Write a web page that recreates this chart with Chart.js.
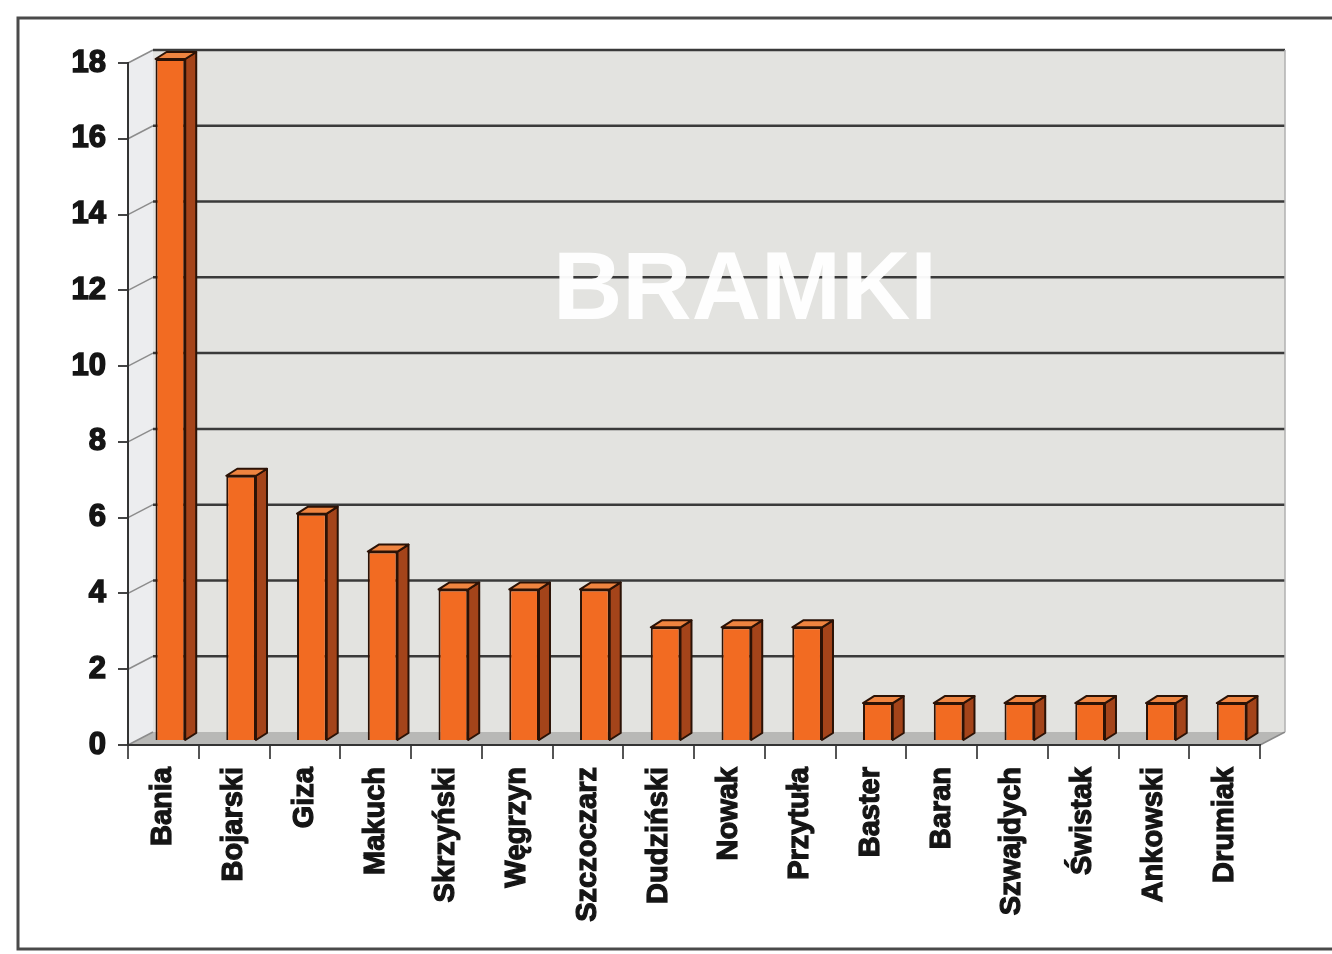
<!DOCTYPE html>
<html>
<head>
<meta charset="utf-8">
<title>BRAMKI</title>
<script src="https://cdn.jsdelivr.net/npm/chart.js@4/dist/chart.umd.min.js"></script>
<style>
  html, body { margin: 0; padding: 0; background: #fff; }
</style>
</head>
<body>
<canvas id="graphics" width="1332" height="954"></canvas>
<script>
const players = ['Bania', 'Bojarski', 'Giza', 'Makuch', 'Skrzyński', 'Węgrzyn', 'Szczoczarz', 'Dudziński',
                 'Nowak', 'Przytuła', 'Baster', 'Baran', 'Szwajdych', 'Świstak', 'Ankowski', 'Drumiak'];
const goals = [18, 7, 6, 5, 4, 4, 4, 3, 3, 3, 1, 1, 1, 1, 1, 1];
const yTicks = [0, 2, 4, 6, 8, 10, 12, 14, 16, 18];
const title = 'BRAMKI';

// depth of the walls and of each bar (fake 3d)
const WALL_DX = 25, WALL_DY = -13;
const BAR_DX = 11, BAR_DY = -7;
const BAR_SHIFT_X = 7, BAR_SHIFT_Y = -4;

const box3d = {
  id: 'box3d',
  beforeDraw(chart) {
    const ctx = chart.ctx;
    const a = chart.chartArea;
    const y = chart.scales.y;
    ctx.save();
    // frame round the picture
    ctx.strokeStyle = '#4a4a4a';
    ctx.lineWidth = 3;
    ctx.strokeRect(18, 18, 1330, 931);

    // back wall
    ctx.fillStyle = '#e3e3e0';
    ctx.fillRect(a.left + WALL_DX, a.top + WALL_DY, a.right - a.left, a.bottom - a.top);
    // left wall
    ctx.fillStyle = '#ecedef';
    ctx.beginPath();
    ctx.moveTo(a.left, a.bottom);
    ctx.lineTo(a.left, a.top);
    ctx.lineTo(a.left + WALL_DX, a.top + WALL_DY);
    ctx.lineTo(a.left + WALL_DX, a.bottom + WALL_DY);
    ctx.closePath();
    ctx.fill();
    // floor
    ctx.fillStyle = '#b8b8b6';
    ctx.beginPath();
    ctx.moveTo(a.left, a.bottom);
    ctx.lineTo(a.right, a.bottom);
    ctx.lineTo(a.right + WALL_DX, a.bottom + WALL_DY);
    ctx.lineTo(a.left + WALL_DX, a.bottom + WALL_DY);
    ctx.closePath();
    ctx.fill();
    ctx.strokeStyle = '#8a8a8a';
    ctx.lineWidth = 1.5;
    ctx.beginPath();
    ctx.moveTo(a.right, a.bottom);
    ctx.lineTo(a.right + WALL_DX, a.bottom + WALL_DY);
    ctx.stroke();

    // gridlines on back and left wall
    yTicks.forEach(v => {
      const py = y.getPixelForValue(v);
      ctx.strokeStyle = '#8c8c8c';
      ctx.lineWidth = 1.5;
      ctx.beginPath();
      ctx.moveTo(a.left, py);
      ctx.lineTo(a.left + WALL_DX, py + WALL_DY);
      ctx.stroke();
      if (v === 0) return;
      ctx.strokeStyle = '#3a3a3a';
      ctx.lineWidth = 2.5;
      ctx.beginPath();
      ctx.moveTo(a.left + WALL_DX, py + WALL_DY);
      ctx.lineTo(a.right + WALL_DX, py + WALL_DY);
      ctx.stroke();
    });
    // right edge of back wall
    ctx.strokeStyle = '#b0b0b0';
    ctx.lineWidth = 1.5;
    ctx.beginPath();
    ctx.moveTo(a.right + WALL_DX, a.top + WALL_DY);
    ctx.lineTo(a.right + WALL_DX, a.bottom + WALL_DY);
    ctx.stroke();
    ctx.restore();
  },
  beforeDatasetsDraw(chart) {
    const ctx = chart.ctx;
    const y = chart.scales.y;
    ctx.save();
    ctx.font = 'bold 96px "Liberation Sans", Arial, sans-serif';
    ctx.fillStyle = 'rgba(255,255,255,0.96)';
    ctx.textAlign = 'center';
    ctx.textBaseline = 'middle';
    ctx.fillText(title, 745, y.getPixelForValue(12) + 2);
    ctx.restore();

    ctx.save();
    ctx.translate(BAR_SHIFT_X, BAR_SHIFT_Y);
  },
  afterDatasetsDraw(chart) {
    const ctx = chart.ctx;
    chart.getDatasetMeta(0).data.forEach(bar => {
      const p = bar.getProps(['x', 'y', 'base', 'width'], true);
      const l = p.x - p.width / 2, r = p.x + p.width / 2;
      ctx.lineWidth = 2;
      ctx.strokeStyle = '#2b1206';
      ctx.lineJoin = 'round';
      // side face
      ctx.fillStyle = '#a4441a';
      ctx.beginPath();
      ctx.moveTo(r, p.base);
      ctx.lineTo(r, p.y);
      ctx.lineTo(r + BAR_DX, p.y + BAR_DY);
      ctx.lineTo(r + BAR_DX, p.base + BAR_DY);
      ctx.closePath();
      ctx.fill();
      ctx.stroke();
      // top face
      ctx.fillStyle = '#ef8440';
      ctx.beginPath();
      ctx.moveTo(l, p.y);
      ctx.lineTo(r, p.y);
      ctx.lineTo(r + BAR_DX, p.y + BAR_DY);
      ctx.lineTo(l + BAR_DX, p.y + BAR_DY);
      ctx.closePath();
      ctx.fill();
      ctx.stroke();
    });
    ctx.restore();
  }
};

const ctx = document.getElementById('graphics').getContext('2d');
const myChart = new Chart(ctx, {
  type: 'bar',
  data: {
    labels: players,
    datasets: [{
      label: title,
      data: goals,
      backgroundColor: '#f26b22',
      borderColor: '#2b1206',
      borderWidth: 2,
      barPercentage: 0.42,
      categoryPercentage: 1
    }]
  },
  options: {
    responsive: false,
    animation: false,
    layout: { padding: { top: 63, right: 72, left: 0, bottom: 0 } },
    plugins: {
      legend: { display: false },
      title: { display: false },
      tooltip: { enabled: false }
    },
    scales: {
      x: {
        afterFit(scale) { scale.height = 209; },
        grid: { offset: true, drawOnChartArea: false, tickLength: 14, color: '#555', lineWidth: 2 },
        border: { color: '#333', width: 2 },
        ticks: {
          minRotation: 90, maxRotation: 90, padding: 8, color: '#151515',
          textStrokeColor: '#151515', textStrokeWidth: 1.2,
          font: { family: '"Liberation Sans", Arial, sans-serif', size: 29, weight: 'bold' }
        }
      },
      y: {
        min: 0, max: 18,
        afterFit(scale) { scale.width = 128; },
        afterBuildTicks(scale) { scale.ticks = yTicks.map(v => ({ value: v })); },
        grid: { drawOnChartArea: false, tickLength: 10, color: '#444', lineWidth: 2 },
        border: { color: '#333', width: 2 },
        ticks: {
          padding: 12, color: '#151515',
          textStrokeColor: '#151515', textStrokeWidth: 1.5,
          font: { family: '"Liberation Sans", Arial, sans-serif', size: 31, weight: 'bold' }
        }
      }
    }
  },
  plugins: [box3d]
});
</script>
</body>
</html>
